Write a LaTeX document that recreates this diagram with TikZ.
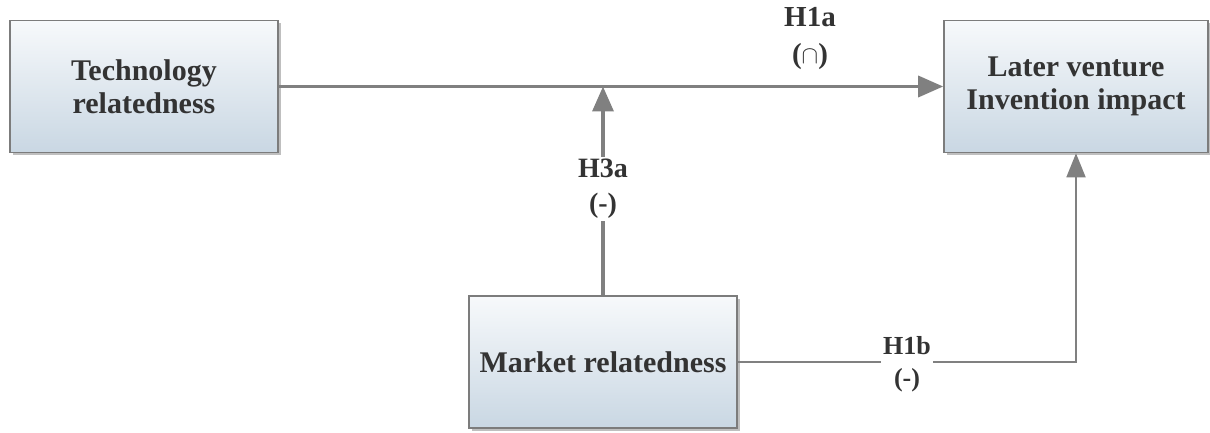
\documentclass[tikz,border=0pt]{standalone}
\usepackage{fontspec}
\setmainfont{Liberation Serif}
\usetikzlibrary{arrows.meta,positioning,calc,shadows}
\definecolor{boxtop}{HTML}{F7F9FB}
\definecolor{boxbottom}{HTML}{C9D7E3}
\definecolor{edgegray}{HTML}{7C7C7C}
\definecolor{linkgray}{HTML}{808080}
\definecolor{textgray}{HTML}{333333}

\begin{document}
\begin{tikzpicture}[x=1pt,y=-1pt,
  construct/.style={draw=edgegray,line width=1.6pt,top color=boxtop,bottom color=boxbottom,
               minimum width=268pt,minimum height=132pt,align=center,text=textgray,
               font=\fontsize{30}{33}\selectfont\bfseries,
               drop shadow={shadow xshift=3pt,shadow yshift=-3pt,fill=black!50}},
  link/.style={draw=linkgray,line width=3.5pt,-{Triangle[length=25pt,width=21pt]}},
  thinlink/.style={draw=linkgray,line width=1.8pt,-{Triangle[length=24pt,width=19pt]}},
  hyp/.style={fill=white,align=center,text=textgray,inner sep=2pt,
               font=\fontsize{29}{37}\selectfont\bfseries},
]
  \useasboundingbox (0,0) rectangle (1210,433);

  \node[construct]                    (tech)   at (144,86.5) {Technology\\relatedness};
  \node[construct,minimum width=264pt] (later) at (1076,86.5) {Later venture\\Invention impact};
  \node[construct]                    (market) at (603,362) {Market relatedness};

  \coordinate (mod) at (tech.east -| market.north);
  \coordinate (bend) at (market.east -| later.south);

  \draw[link] (tech.east) -- (later.west);
  \node[hyp] (h1a) at (810,39) {H1a\\($\cap$)};

  \draw[link] (market.north) -- (mod);
  \node[hyp,font=\fontsize{28}{35}\selectfont\bfseries] (h3a) at (603,189) {H3a\\(-)};

  \draw[thinlink] (market.east) -- (bend) -- (later.south);
  \node[hyp,font=\fontsize{26}{32}\selectfont\bfseries] (h1b) at (907,364) {H1b\\(-)};
\end{tikzpicture}
\end{document}
